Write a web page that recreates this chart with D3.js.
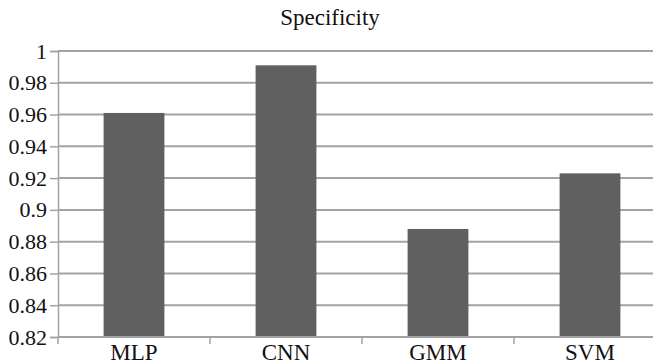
<!DOCTYPE html>
<html><head><meta charset="utf-8">
<script src="https://cdn.jsdelivr.net/npm/d3@7"></script>
</head><body style="margin:0">
<script>
const categories = ["MLP", "CNN", "GMM", "SVM"];
const values = [0.961, 0.991, 0.888, 0.923];
const yTicks = [0.82, 0.84, 0.86, 0.88, 0.9, 0.92, 0.94, 0.96, 0.98, 1];
const tickLabels = ["0.82","0.84","0.86","0.88","0.9","0.92","0.94","0.96","0.98","1"];
const title = "Specificity";

const W = 653, H = 364;
const svg = d3.select("body").append("svg").attr("width", W).attr("height", H).style("display", "block");
const font = '"Liberation Serif"';
const gridColor = "#a3a3a3";

const x = d3.scaleBand().domain(categories).range([58, 666]).paddingInner(0.6).paddingOuter(0.3);
const y = d3.scaleLinear().domain([0.82, 1]).range([337, 51]);

// gridlines
svg.append("g").selectAll("line").data(yTicks.slice(1)).join("line")
  .attr("x1", 58).attr("x2", W).attr("y1", d => y(d)).attr("y2", d => y(d))
  .attr("stroke", gridColor).attr("stroke-width", 2);

// left axis
const yAxis = d3.axisLeft(y).tickValues(yTicks).tickSize(8).tickPadding(3)
  .tickFormat((d, i) => tickLabels[i]);
const gy = svg.append("g").attr("transform", "translate(58,0)").call(yAxis);
gy.attr("font-family", null).attr("font-size", null);
gy.select(".domain").attr("stroke", gridColor).attr("stroke-width", 1.5);
gy.selectAll(".tick line").attr("stroke", gridColor).attr("stroke-width", 1.5);
gy.selectAll(".tick text").style("font-family", font).attr("font-size", 22).attr("fill", "#111");

// bars
svg.append("g").selectAll("rect").data(values).join("rect")
  .attr("x", (d, i) => x(categories[i]))
  .attr("width", x.bandwidth())
  .attr("y", d => y(d))
  .attr("height", d => y(0.82) - y(d))
  .attr("fill", "#606060");

// bottom axis
const xb = d3.scaleLinear().domain([0, 4]).range([58, 666]);
svg.append("line").attr("x1", 58).attr("x2", W).attr("y1", y(0.82)).attr("y2", y(0.82))
  .attr("stroke", gridColor).attr("stroke-width", 2);
svg.append("g").selectAll("line").data([0, 1, 2, 3]).join("line")
  .attr("x1", d => xb(d)).attr("x2", d => xb(d))
  .attr("y1", y(0.82)).attr("y2", y(0.82) + 7)
  .attr("stroke", gridColor).attr("stroke-width", 1.5);
svg.append("g").selectAll("text").data(categories).join("text")
  .attr("x", d => x(d) + x.bandwidth() / 2).attr("y", 360)
  .attr("text-anchor", "middle").style("font-family", font).attr("font-size", 23)
  .attr("fill", "#111").text(d => d);

// title
svg.append("text").attr("x", 330).attr("y", 25).attr("text-anchor", "middle")
  .style("font-family", font).attr("font-size", 23).attr("fill", "#111").text(title);
</script>
</body></html>
